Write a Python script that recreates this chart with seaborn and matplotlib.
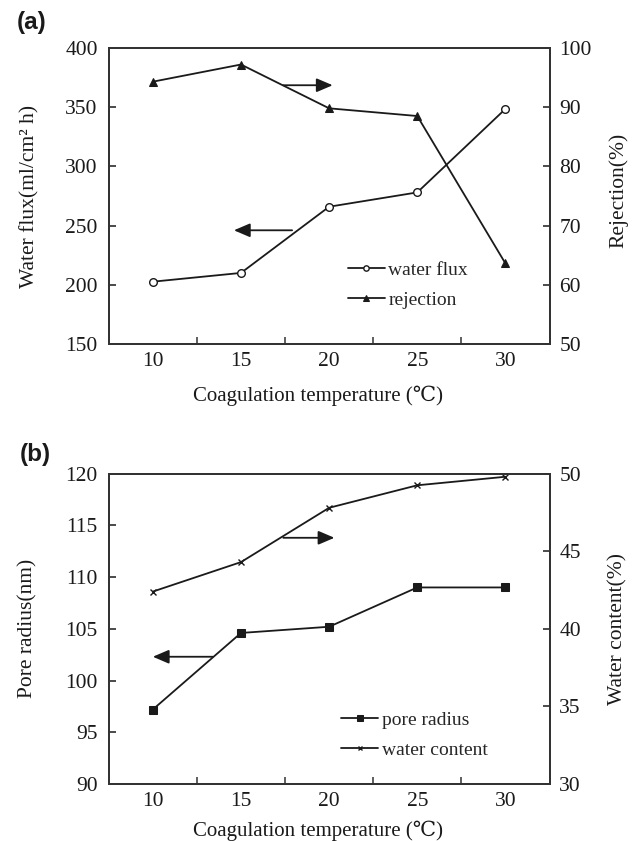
import numpy as np
import pandas as pd
import matplotlib
matplotlib.use("Agg")
import matplotlib.pyplot as plt
import seaborn as sns
from matplotlib.ticker import FixedLocator

# ---- data ----
temperature = [10, 15, 20, 25, 30]
water_flux = [202.6, 210.0, 265.9, 278.0, 348.5]
rejection = [94.3, 97.2, 89.8, 88.5, 63.6]
pore_radius = [97.2, 104.6, 105.2, 109.0, 109.0]
water_content = [42.4, 44.3, 47.8, 49.25, 49.8]

x_ticks = [10, 15, 20, 25, 30]
flux_ticks = [150, 200, 250, 300, 350, 400]
rej_ticks = [50, 60, 70, 80, 90, 100]
pore_ticks = [90, 95, 100, 105, 110, 115, 120]
wc_ticks = [30, 35, 40, 45, 50]

sns.set_theme(style="white")
plt.rcParams["font.family"] = ["Liberation Serif", "DejaVu Serif"]

INK = "#1a1a1a"
SPINE = "#333333"
FS_TICK = 15.5
FS_LAB = 15.5
FS_XLAB = 15
FS_LEG = 14

fig = plt.figure(figsize=(6.36, 8.41), dpi=100)
ax_a = fig.add_axes([0.171, 0.591, 0.693, 0.352])
ax_b = fig.add_axes([0.171, 0.0678, 0.693, 0.369])


def style_axes(ax, ax2):
    ax.set_xlim(7.5, 32.5)
    ax.xaxis.set_major_locator(FixedLocator(x_ticks))
    ax.xaxis.set_minor_locator(FixedLocator([12.5, 17.5, 22.5, 27.5]))
    ax.tick_params(axis="x", which="major", length=0, pad=6, labelsize=FS_TICK, colors=INK)
    ax.tick_params(axis="x", which="minor", length=5, width=1.1, direction="in",
                   bottom=True, top=False, color=SPINE)
    ax.tick_params(axis="y", which="major", length=5, width=1.1, direction="in",
                   pad=8, labelsize=FS_TICK, colors=INK, left=True)
    ax2.tick_params(axis="y", which="major", length=5, width=1.1, direction="in",
                    pad=7, labelsize=FS_TICK, colors=INK, right=True)
    for a in (ax, ax2):
        for s in a.spines.values():
            s.set_color(SPINE)
            s.set_linewidth(1.4)
            s.set_visible(True)
        a.grid(False)


def arrow(ax, x0, x1, y):
    ax.annotate("", xy=(x1, y), xytext=(x0, y),
                arrowprops=dict(arrowstyle="-|>,head_length=0.7,head_width=0.3",
                                color=INK, lw=1.3, mutation_scale=14,
                                shrinkA=0, shrinkB=0))


# ---- panel (a) ----
df_a = pd.DataFrame({"T": temperature, "flux": water_flux, "rej": rejection})
ax_a2 = ax_a.twinx()
sns.lineplot(data=df_a, x="T", y="flux", ax=ax_a, color=INK, lw=1.3, marker="o",
             markersize=5.5, markerfacecolor="white", markeredgecolor=INK,
             markeredgewidth=1.0, label="water flux", legend=False)
sns.lineplot(data=df_a, x="T", y="rej", ax=ax_a2, color=INK, lw=1.3, marker="^",
             markersize=6, markerfacecolor=INK, markeredgecolor=INK,
             label="rejection", legend=False)
ax_a.set_ylim(150, 400)
ax_a.set_yticks(flux_ticks)
ax_a2.set_ylim(50, 100)
ax_a2.set_yticks(rej_ticks)
style_axes(ax_a, ax_a2)
ax_a.set_xlabel("Coagulation temperature (℃)", fontsize=FS_XLAB, color=INK)
ax_a.xaxis.set_label_coords(0.475, -0.139)
ax_a.set_ylabel("Water flux(ml/cm² h)", fontsize=FS_LAB, color=INK)
ax_a.yaxis.set_label_coords(-0.157, 0.5)
ax_a2.set_ylabel("Rejection(%)", fontsize=FS_LAB, color=INK)
ax_a2.yaxis.set_label_coords(1.134, 0.52)
arrow(ax_a, 17.4, 20.2, 368.5)
arrow(ax_a, 17.9, 14.6, 246)
h_a = [ax_a.get_lines()[0], ax_a2.get_lines()[0]]
ax_a2.legend(h_a, ["water flux", "rejection"], loc="upper left",
             bbox_to_anchor=(0.542, 0.28), frameon=False, fontsize=FS_LEG,
             handlelength=1.9, handletextpad=0.2, labelspacing=0.65,
             borderpad=0, borderaxespad=0, markerscale=0.7)

# ---- panel (b) ----
df_b = pd.DataFrame({"T": temperature, "pore": pore_radius, "wc": water_content})
ax_b2 = ax_b.twinx()
sns.lineplot(data=df_b, x="T", y="pore", ax=ax_b, color=INK, lw=1.3, marker="s",
             markersize=6, markerfacecolor=INK, markeredgecolor=INK,
             label="pore radius", legend=False)
sns.lineplot(data=df_b, x="T", y="wc", ax=ax_b2, color=INK, lw=1.3, marker="x",
             markersize=5, markeredgecolor=INK, markeredgewidth=1.0,
             label="water content", legend=False)
ax_b.set_ylim(90, 120)
ax_b.set_yticks(pore_ticks)
ax_b2.set_ylim(30, 50)
ax_b2.set_yticks(wc_ticks)
style_axes(ax_b, ax_b2)
ax_b.set_xlabel("Coagulation temperature (℃)", fontsize=FS_XLAB, color=INK)
ax_b.xaxis.set_label_coords(0.475, -0.119)
ax_b.set_ylabel("Pore radius(nm)", fontsize=FS_LAB, color=INK)
ax_b.yaxis.set_label_coords(-0.161, 0.5)
ax_b2.set_ylabel("Water content(%)", fontsize=FS_LAB, color=INK)
ax_b2.yaxis.set_label_coords(1.134, 0.5)
arrow(ax_b, 17.4, 20.3, 113.8)
arrow(ax_b, 13.4, 10.0, 102.3)
h_b = [ax_b.get_lines()[0], ax_b2.get_lines()[0]]
ax_b2.legend(h_b, ["pore radius", "water content"], loc="upper left",
             bbox_to_anchor=(0.528, 0.235), frameon=False, fontsize=FS_LEG,
             handlelength=1.9, handletextpad=0.2, labelspacing=0.65,
             borderpad=0, borderaxespad=0, markerscale=0.7)

fig.text(17 / 636, 1 - 22 / 841, "(a)", fontsize=17.5, fontweight="bold",
         family=["Liberation Sans", "DejaVu Sans"], ha="left", va="center", color=INK)
fig.text(20 / 636, 1 - 455 / 841, "(b)", fontsize=17.5, fontweight="bold",
         family=["Liberation Sans", "DejaVu Sans"], ha="left", va="center", color=INK)

fig.savefig("out.png", dpi=100)
